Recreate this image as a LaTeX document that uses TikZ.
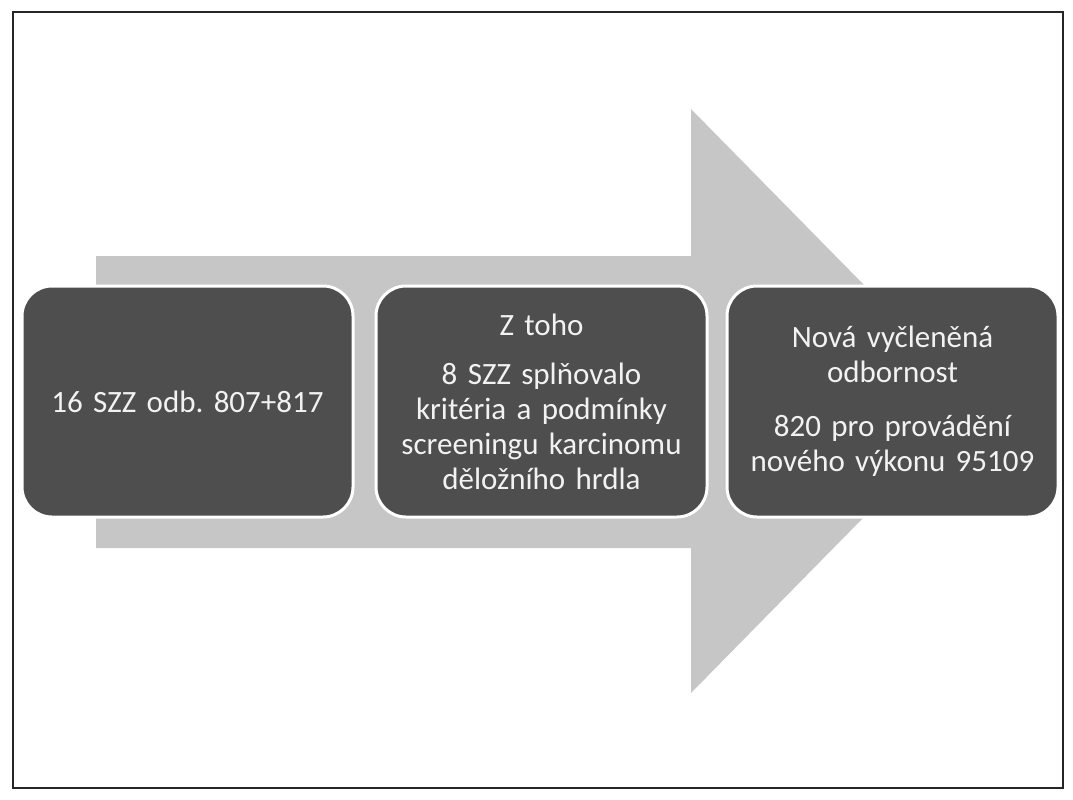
\documentclass[tikz,border=0pt]{standalone}
\usepackage{fontspec}
\setmainfont{Carlito}[WordSpace=0.8]
\usepackage{tikz}
\usetikzlibrary{positioning}

\definecolor{arrowgrey}{RGB}{198,198,198}
\definecolor{boxgrey}{RGB}{78,78,78}
\definecolor{textwhite}{RGB}{242,242,242}

\begin{document}
\begin{tikzpicture}[x=1pt,y=-1pt,
	stepbox/.style={rectangle,rounded corners=30pt,fill=boxgrey,draw=white,line width=3pt,
		minimum width=331pt,minimum height=231pt,text width=312pt,align=center,
		text=textwhite,font=\fontsize{31}{35}\selectfont}]
	\useasboundingbox (0,0) rectangle (1073,800);
	%frame
	\draw[line width=2.5pt,black!85] (13,12) rectangle (1063,788);

	%big arrow
	\fill[arrowgrey] (96,256) -- (691,256) -- (691,109) -- (978,401) -- (691,693) -- (691,548) -- (96,548) -- cycle;

	%steps
	\node [stepbox] (s1) at (187.5,401.5) {16 SZZ odb.\ 807+817};
	\node [stepbox] (s2) at (541.5,401.5) {Z toho\\[14pt]8 SZZ splňovalo\\kritéria a podmínky\\screeningu karcinomu\\děložního hrdla};
	\node [stepbox] (s3) at (892.5,401.5) {Nová vyčleněná\\odbornost\\[19pt]820 pro provádění\\nového výkonu 95109};
\end{tikzpicture}
\end{document}
